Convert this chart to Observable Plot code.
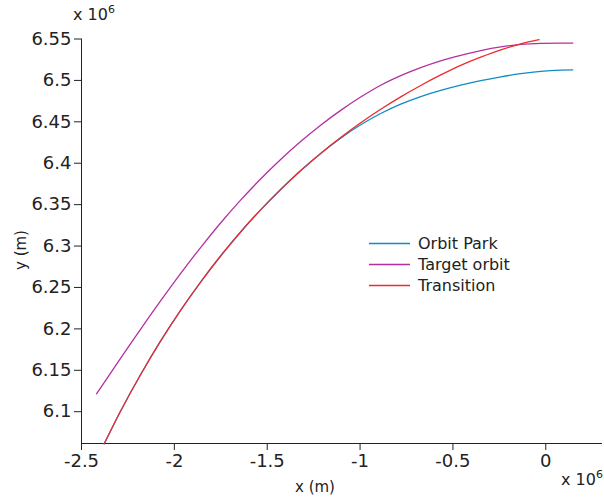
<!DOCTYPE html>
<html><head><meta charset="utf-8">
<script src="https://cdn.jsdelivr.net/npm/d3@7"></script>
<script src="https://cdn.jsdelivr.net/npm/@observablehq/plot@0.6"></script>
<style>body{margin:0;background:#fff;} #chart svg{display:block}</style>
</head><body><div id="chart"></div>
<script>
// values in units of 10^6 m
const seriesNames = ["Orbit Park", "Target orbit", "Transition"];
const seriesColors = ["#0f8cc6", "#b5309f", "#ef2b2d"];

const parkX = [-2.3777,-2.2899,-2.1821,-2.0744,-1.9666,-1.8588,-1.7511,-1.6433,-1.5356,-1.4278,-1.3200,-1.2123,-1.1045,-0.9968,-0.8890,-0.7812,-0.6735,-0.5657,-0.4580,-0.3502,-0.2425,-0.1347,-0.0269,0.0808,0.1455];
const parkY = [6.0612,6.1006,6.1446,6.1851,6.2223,6.2565,6.2880,6.3170,6.3437,6.3683,6.3912,6.4118,6.4303,6.4464,6.4600,6.4713,6.4805,6.4880,6.4943,6.4997,6.5043,6.5082,6.5110,6.5125,6.5128];

const targetX = [-2.4192,-2.2899,-2.1821,-2.0744,-1.9666,-1.8588,-1.7511,-1.6433,-1.5356,-1.4278,-1.3200,-1.2123,-1.1045,-0.9968,-0.8890,-0.7812,-0.6735,-0.5657,-0.4580,-0.3502,-0.2425,-0.1347,-0.0269,0.0808,0.1455];
const targetY = [6.1216,6.1643,6.1995,6.2338,6.2668,6.2982,6.3278,6.3554,6.3810,6.4046,6.4262,6.4459,6.4638,6.4799,6.4942,6.5058,6.5155,6.5236,6.5302,6.5360,6.5405,6.5434,6.5448,6.5451,6.5451];

const transX = [-2.3777,-2.2899,-2.1821,-2.0744,-1.9666,-1.8588,-1.7511,-1.6433,-1.5356,-1.4278,-1.3200,-1.2123,-1.1045,-0.9968,-0.8890,-0.7812,-0.6735,-0.5657,-0.4580,-0.3502,-0.2425,-0.1347,-0.0361];
const transY = [6.0612,6.1006,6.1446,6.1851,6.2223,6.2565,6.2880,6.3170,6.3437,6.3683,6.3910,6.4119,6.4311,6.4488,6.4651,6.4801,6.4939,6.5066,6.5182,6.5280,6.5368,6.5442,6.5492];

const xTicks = [-2.5, -2, -1.5, -1, -0.5, 0];
const xTickLabels = ["-2.5", "-2", "-1.5", "-1", "-0.5", "0"];
const yTicks = [6.1, 6.15, 6.2, 6.25, 6.3, 6.35, 6.4, 6.45, 6.5, 6.55];
const yTickLabels = ["6.1", "6.15", "6.2", "6.25", "6.3", "6.35", "6.4", "6.45", "6.5", "6.55"];

const rows = [];
[[parkX, parkY], [targetX, targetY], [transX, transY]].forEach(([xs, ys], k) => {
  xs.forEach((x, i) => rows.push({series: seriesNames[k], x, y: ys[i]}));
});

const plot = Plot.plot({
  width: 604, height: 498,
  marginLeft: 81, marginRight: 3, marginTop: 38.5, marginBottom: 55,
  style: {fontFamily: "DejaVu Sans", fontSize: "18px", color: "#222", background: "white"},
  x: {domain: [-2.5, 0.3], ticks: xTicks, tickFormat: d => xTickLabels[xTicks.indexOf(d)], tickSize: 7, tickPadding: 4, label: null, line: true},
  y: {domain: [6.0616, 6.55], ticks: yTicks, tickFormat: d => yTickLabels[yTicks.indexOf(d)], tickSize: 7, tickPadding: 3, label: null, line: true},
  color: {domain: seriesNames, range: seriesColors},
  marks: [
    Plot.line(rows, {x: "x", y: "y", z: "series", stroke: "series", strokeWidth: 1.3, curve: "catmull-rom"})
  ]
});
document.getElementById("chart").appendChild(plot);

const svg = d3.select(plot);
const font = "DejaVu Sans";
// legend
const leg = svg.append("g").attr("text-anchor", "start");
seriesNames.forEach((name, i) => {
  const y = 243.5 + i * 21;
  leg.append("line").attr("x1", 369).attr("x2", 410).attr("y1", y).attr("y2", y)
    .attr("stroke", seriesColors[i]).attr("stroke-width", 1.3);
  leg.append("text").attr("x", 418).attr("y", y).attr("dy", "0.36em")
    .attr("font-family", font).attr("font-size", 16).attr("fill", "#222").text(name);
});
// axis labels
svg.append("text").attr("x", 315).attr("y", 492).attr("text-anchor", "middle")
  .attr("font-family", font).attr("font-size", 15).attr("fill", "#222").text("x (m)");
svg.append("text").attr("transform", "translate(26,250) rotate(-90)").attr("text-anchor", "middle")
  .attr("font-family", font).attr("font-size", 15).attr("fill", "#222").text("y (m)");
// exponent labels
function expo(x, y) {
  const t = svg.append("text").attr("x", x).attr("y", y).attr("text-anchor", "start")
    .attr("font-family", font).attr("font-size", 16).attr("fill", "#222");
  t.append("tspan").text("x 10");
  t.append("tspan").attr("dy", -7).attr("font-size", 11).text("6");
}
expo(73, 20);
expo(561, 485);
</script>
</body></html>
